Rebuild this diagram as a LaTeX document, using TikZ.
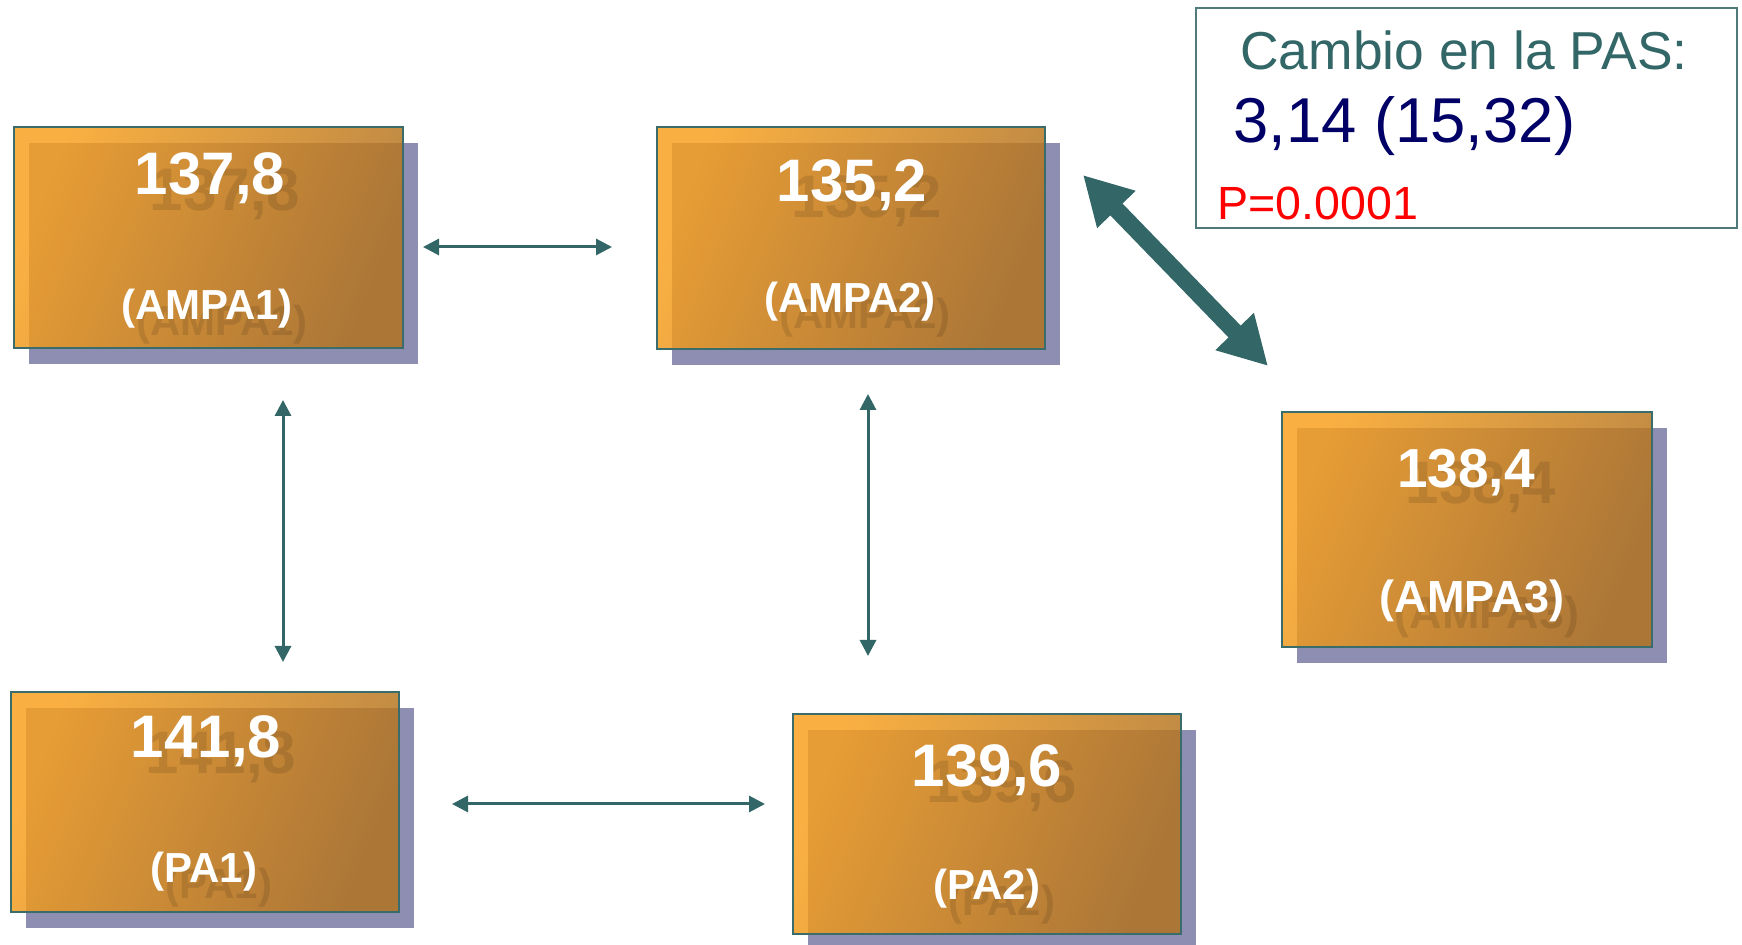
\documentclass[tikz,border=0pt]{standalone}
\usepackage{fontspec}
\setmainfont{Liberation Sans}
\usetikzlibrary{arrows.meta,shadows}
\definecolor{tealc}{RGB}{51,102,102}
\definecolor{boxedge}{RGB}{58,108,108}
\definecolor{frameedge}{RGB}{80,122,122}
\definecolor{orL}{RGB}{248,160,30}
\definecolor{orD}{RGB}{178,114,32}
\definecolor{shadowc}{RGB}{142,142,178}
\definecolor{navyc}{RGB}{0,0,102}
\definecolor{redc}{RGB}{255,0,0}
\tikzset{
  box/.style={anchor=north west, inner sep=0pt, draw=boxedge, line width=1pt,
    left color=orL, right color=orD, shading angle=68, fill opacity=0.84,
    general shadow={fill=shadowc, fill opacity=1, draw=none, shadow xshift=7.5pt, shadow yshift=-8pt}},
  numtxt/.style={anchor=base, inner sep=0pt, text=white, font=\bfseries\fontsize{30}{30}\selectfont},
  labtxt/.style={anchor=base, inner sep=0pt, text=white, font=\bfseries\fontsize{21}{21}\selectfont},
  numghost/.style={numtxt, text=black, text opacity=0.11},
  labghost/.style={labtxt, text=black, text opacity=0.11},
  thinarrow/.style={draw=tealc, line width=1.5pt, arrows={Triangle[length=8pt,width=8pt]-Triangle[length=8pt,width=8pt]}},
  thickarrow/.style={draw=tealc, line width=8.5pt, arrows={Triangle[length=24pt,width=25pt]-Triangle[length=24pt,width=25pt]}},
  frame/.style={anchor=north west, inner sep=0pt, draw=frameedge, line width=1pt, fill=white},
  infotxt/.style={anchor=base west, inner sep=0pt}
}
\begin{document}
\begin{tikzpicture}[x=0.5pt,y=-0.5pt]
\useasboundingbox (0,0) rectangle (1742,945);
% boxes
\node[box, minimum width=194.5pt, minimum height=110.5pt] (ampa1) at (13,126) {};
\node[box, minimum width=194pt, minimum height=111pt] (ampa2) at (656,126) {};
\node[box, minimum width=185pt, minimum height=117.5pt] (ampa3) at (1281,411) {};
\node[box, minimum width=194pt, minimum height=110pt] (pa1) at (10,691) {};
\node[box, minimum width=194pt, minimum height=110pt] (pa2) at (792,713) {};
% ghost texts
\node[numghost] (g1) at (225,211) {137,8};
\node[labghost] (g2) at (222,336) {(AMPA1)};
\node[numghost] (g3) at (867,218) {135,2};
\node[labghost] (g4) at (865,329) {(AMPA2)};
\node[numghost] (g5) at (1481,504) {138,4};
\node[labghost, font=\bfseries\fontsize{22.5}{22.5}\selectfont] (g6) at (1487,629) {(AMPA3)};
\node[numghost] (g7) at (221,774) {141,8};
\node[labghost] (g8) at (219,899) {(PA1)};
\node[numghost] (g9) at (1002,803) {139,6};
\node[labghost] (g10) at (1002,916) {(PA2)};
% texts
\node[numtxt] (t1) at (210,195) {137,8};
\node[labtxt] (l1) at (207,320) {(AMPA1)};
\node[numtxt] (t2) at (852,202) {135,2};
\node[labtxt] (l2) at (850,313) {(AMPA2)};
\node[numtxt, font=\bfseries\fontsize{27.5}{27.5}\selectfont] (t3) at (1466,488) {138,4};
\node[labtxt, font=\bfseries\fontsize{22.5}{22.5}\selectfont] (l3) at (1472,613) {(AMPA3)};
\node[numtxt] (t4) at (206,758) {141,8};
\node[labtxt] (l4) at (204,883) {(PA1)};
\node[numtxt] (t5) at (987,787) {139,6};
\node[labtxt] (l5) at (987,900) {(PA2)};
% info frame
\node[frame, minimum width=270.5pt, minimum height=110pt] (info) at (1195,7) {};
\node[infotxt, text=tealc, font=\fontsize{26.7}{26.7}\selectfont] (cambio) at (1240,70) {Cambio en la PAS:};
\node[infotxt, text=navyc, font=\fontsize{31.7}{31.7}\selectfont] (valor) at (1233,143) {3,14 (15,32)};
\node[infotxt, text=redc, font=\fontsize{23.3}{23.3}\selectfont] (pval) at (1217,220) {P=0.0001};
% connectors
\coordinate (h1a) at (423,247);
\coordinate (h1b) at (612,247);
\coordinate (v1a) at (283,400);
\coordinate (v1b) at (283,662);
\coordinate (v2a) at (868,394);
\coordinate (v2b) at (868,656);
\coordinate (h2a) at (452,804);
\coordinate (h2b) at (765,804);
\coordinate (k1) at (1083,175);
\coordinate (k2) at (1268,366);
\draw[thinarrow] (h1a) -- (h1b);
\draw[thinarrow] (v1a) -- (v1b);
\draw[thinarrow] (v2a) -- (v2b);
\draw[thinarrow] (h2a) -- (h2b);
\draw[thickarrow] (k1) -- (k2);
\end{tikzpicture}
\end{document}
